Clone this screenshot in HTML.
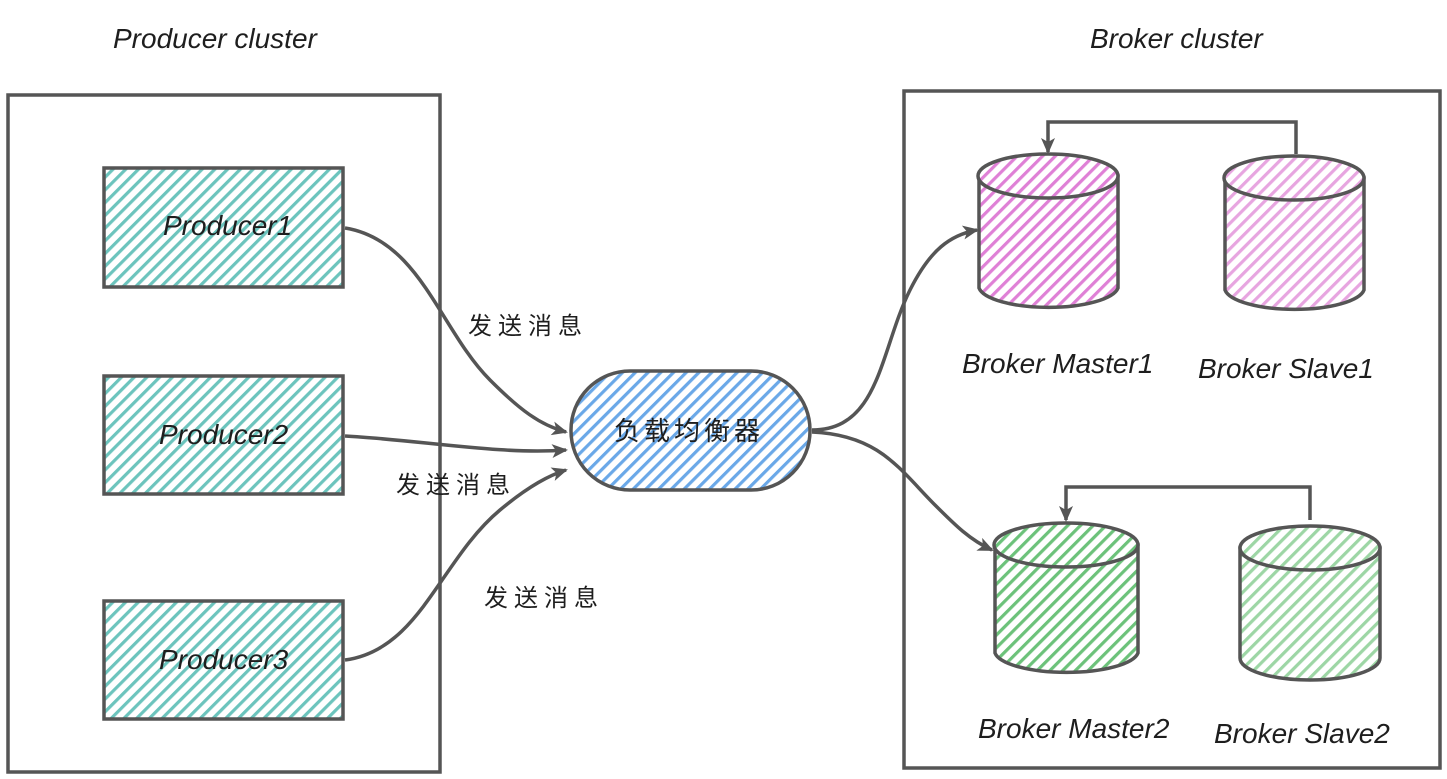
<!DOCTYPE html>
<html><head><meta charset="utf-8"><style>
html,body{margin:0;padding:0;background:#fff;}
svg{display:block}
text{font-family:"Liberation Sans","Noto Sans CJK SC",sans-serif;font-style:italic;fill:#1e1e1e}
</style></head><body>
<svg width="1447" height="779" viewBox="0 0 1447 779" xmlns="http://www.w3.org/2000/svg">
<defs>
<pattern id="teal" width="9" height="9" patternUnits="userSpaceOnUse" patternTransform="rotate(45)"><rect width="9" height="9" fill="#fff"/><rect width="3.2" height="9" fill="#6cc4bd"/></pattern>
<pattern id="blue" width="9" height="9" patternUnits="userSpaceOnUse" patternTransform="rotate(45)"><rect width="9" height="9" fill="#fff"/><rect width="3.2" height="9" fill="#6aa8e8"/></pattern>
<pattern id="pink" width="9" height="9" patternUnits="userSpaceOnUse" patternTransform="rotate(45)"><rect width="9" height="9" fill="#fff"/><rect width="3.2" height="9" fill="#df80d6"/></pattern>
<pattern id="pink2" width="9" height="9" patternUnits="userSpaceOnUse" patternTransform="rotate(45)"><rect width="9" height="9" fill="#fff"/><rect width="3.2" height="9" fill="#e7a5e0"/></pattern>
<pattern id="green" width="9" height="9" patternUnits="userSpaceOnUse" patternTransform="rotate(45)"><rect width="9" height="9" fill="#fff"/><rect width="3.2" height="9" fill="#6cc27a"/></pattern>
<pattern id="green2" width="9" height="9" patternUnits="userSpaceOnUse" patternTransform="rotate(45)"><rect width="9" height="9" fill="#fff"/><rect width="3.2" height="9" fill="#9dd6a5"/></pattern>
<marker id="ar" markerWidth="18" markerHeight="16" refX="14" refY="8" orient="auto" markerUnits="userSpaceOnUse" viewBox="0 0 18 16"><path d="M0,1 L16,8 L0,15 L4,8 z" fill="#555"/></marker>
</defs>
<g stroke="#555" stroke-width="3.5" fill="none">
<rect x="8" y="95" width="432" height="677"/>
<rect x="904" y="91" width="536" height="677"/>
<rect x="104" y="168" width="239" height="119" fill="url(#teal)"/>
<rect x="104" y="376" width="239" height="118" fill="url(#teal)"/>
<rect x="104" y="601" width="239" height="118" fill="url(#teal)"/>
<rect x="571" y="371" width="239" height="119" rx="59" fill="url(#blue)"/>
</g>
<g stroke="#555" stroke-width="3.5">
<path d="M979,176 V288 A70,22 0 0 0 1118,288 V176 Z" fill="url(#pink)"/>
<ellipse cx="1048" cy="176" rx="70" ry="22" fill="url(#pink)"/>
<path d="M1225,178 V290 A70,22 0 0 0 1364,290 V178 Z" fill="url(#pink2)"/>
<ellipse cx="1294" cy="178" rx="70" ry="22" fill="url(#pink2)"/>
<path d="M995,545 V653 A72,22 0 0 0 1138,653 V545 Z" fill="url(#green)"/>
<ellipse cx="1066" cy="545" rx="72" ry="22" fill="url(#green)"/>
<path d="M1240,548 V658 A70,22 0 0 0 1380,658 V548 Z" fill="url(#green2)"/>
<ellipse cx="1310" cy="548" rx="70" ry="22" fill="url(#green2)"/>
</g>
<g stroke="#555" stroke-width="3.5" fill="none" marker-end="url(#ar)">
<path d="M345,228 C420,240 440,330 490,380 C520,410 540,425 566,432"/>
<path d="M345,436 C420,440 500,455 566,450"/>
<path d="M345,660 C420,650 440,560 500,510 C530,485 550,475 566,470"/>
<path d="M812,430 C880,430 880,350 910,290 C930,250 950,235 977,230"/>
<path d="M812,432 C880,435 900,470 935,505 C955,525 970,540 992,550"/>
<path d="M1296,154 V122 H1048 V152"/>
<path d="M1310,520 V487 H1066 V520"/>
</g>
<g font-size="28">
<text x="113" y="48">Producer cluster</text>
<text x="1090" y="48">Broker cluster</text>
<text x="163" y="235">Producer1</text>
<text x="159" y="444">Producer2</text>
<text x="159" y="669">Producer3</text>
<text x="962" y="373">Broker Master1</text>
<text x="1198" y="378">Broker Slave1</text>
<text x="978" y="738">Broker Master2</text>
<text x="1214" y="743">Broker Slave2</text>
</g>
<g font-size="24">
<text x="468" y="334" style="font-style:normal" letter-spacing="6">发送消息</text>
<text x="396" y="493" style="font-style:normal" letter-spacing="6">发送消息</text>
<text x="484" y="606" style="font-style:normal" letter-spacing="6">发送消息</text>
<text x="614" y="440" style="font-style:normal" font-size="26" letter-spacing="4">负载均衡器</text>
</g>
</svg>
</body></html>
